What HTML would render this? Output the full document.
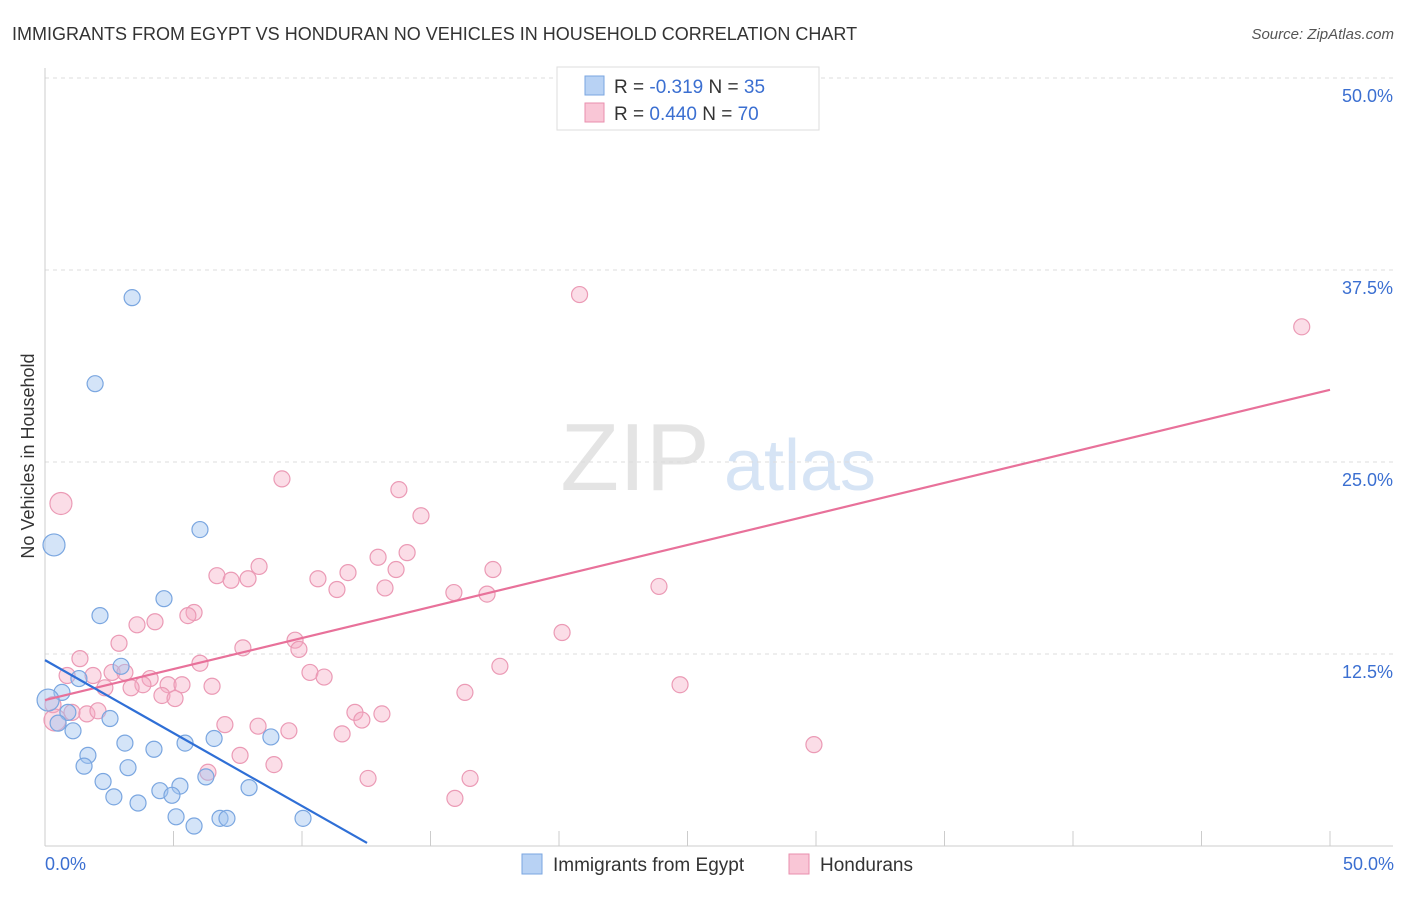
<!DOCTYPE html>
<html><head><meta charset="utf-8"><style>
body{margin:0;background:#fff;font-family:"Liberation Sans",sans-serif;}
svg text{font-family:"Liberation Sans",sans-serif;}
</style></head><body>
<svg id="c" width="1406" height="892" viewBox="0 0 1406 892">
<text x="12" y="40" font-size="18" fill="#333">IMMIGRANTS FROM EGYPT VS HONDURAN NO VEHICLES IN HOUSEHOLD CORRELATION CHART</text>
<text x="1394" y="39" font-size="15" fill="#555" text-anchor="end" font-style="italic">Source: ZipAtlas.com</text>
<g>
<text x="635" y="490" font-size="96" fill="#e4e4e4" font-family="Liberation Serif" text-anchor="middle">ZIP</text>
<text x="800" y="490" font-size="72" fill="#d6e4f5" text-anchor="middle">atlas</text>
</g>
<g id="grid"></g>
<g id="marks"></g>
<text transform="translate(34,456) rotate(-90)" font-size="18" fill="#333" text-anchor="middle">No Vehicles in Household</text>
<text x="45" y="870" font-size="18" fill="#3b6fd1">0.0%</text>
<text x="1394" y="870" font-size="18" fill="#3b6fd1" text-anchor="end">50.0%</text>
<g>
<rect x="557" y="67" width="262" height="63" fill="#fff" stroke="#ddd"/>
<rect x="585" y="76" width="19" height="19" fill="#b8d2f4" stroke="#7aa6e0"/>
<text x="614" y="93" font-size="19" fill="#333">R = <tspan fill="#3b6fd1">-0.319</tspan>   N = <tspan fill="#3b6fd1">35</tspan></text>
<rect x="585" y="103" width="19" height="19" fill="#f9c6d6" stroke="#e98fae"/>
<text x="614" y="120" font-size="19" fill="#333">R = <tspan fill="#3b6fd1"> 0.440</tspan>   N = <tspan fill="#3b6fd1">70</tspan></text>
</g>
<g>
<rect x="522" y="854" width="20" height="20" fill="#b8d2f4" stroke="#7aa6e0"/>
<text x="553" y="871" font-size="19" fill="#333">Immigrants from Egypt</text>
<rect x="789" y="854" width="20" height="20" fill="#f9c6d6" stroke="#e98fae"/>
<text x="820" y="871" font-size="19" fill="#333">Hondurans</text>
</g>
</svg>
<script>
const yTicks=[12.5,25,37.5,50];
const yTickLabels=["12.5%","25.0%","37.5%","50.0%"];
const xTicks=[0,5,10,15,20,25,30,35,40,45,50];
const egyptX=[3.39,1.95,0.35,6.03,4.63,2.14,2.96,1.32,0.66,0.12,0.89,2.53,0.51,1.09,3.11,4.24,5.45,6.58,8.79,1.67,1.52,3.23,2.26,5.25,6.26,7.94,4.47,2.68,4.94,3.62,5.1,6.81,7.08,5.8,10.04];
const egyptY=[35.7,30.1,19.6,20.6,16.1,15.0,11.7,10.9,10.0,9.5,8.7,8.3,8.0,7.5,6.7,6.3,6.7,7.0,7.1,5.9,5.2,5.1,4.2,3.9,4.5,3.8,3.6,3.2,3.3,2.8,1.9,1.8,1.8,1.3,1.8];
const hondX=[20.8,48.9,0.62,9.22,13.77,14.63,14.09,12.96,8.33,11.79,13.66,17.43,6.69,7.24,7.9,10.62,11.36,13.23,23.89,15.91,17.2,5.8,5.56,4.28,3.58,20.12,9.73,2.88,7.7,9.88,1.36,6.03,17.7,2.61,10.31,0.86,1.87,3.11,4.09,10.86,3.81,4.79,5.33,6.5,3.35,2.33,24.71,16.34,4.55,5.06,0.31,0.39,1.05,1.63,2.06,12.06,13.11,12.33,7.0,8.29,9.49,11.56,29.92,7.59,8.91,6.34,12.57,16.54,15.95];
const hondY=[35.9,33.8,22.3,23.9,23.2,21.5,19.1,18.8,18.2,17.8,18.0,18.0,17.6,17.3,17.4,17.4,16.7,16.8,16.9,16.5,16.4,15.2,15.0,14.6,14.4,13.9,13.4,13.2,12.9,12.8,12.2,11.9,11.7,11.3,11.3,11.1,11.1,11.3,10.9,11.0,10.5,10.5,10.5,10.4,10.3,10.3,10.5,10.0,9.8,9.6,9.2,8.2,8.7,8.6,8.8,8.7,8.6,8.2,7.9,7.8,7.5,7.3,6.6,5.9,5.3,4.8,4.4,4.4,3.1];
const egyptTrend=[[0,12.1],[12.53,0.2]];
const hondTrend=[[0,9.5],[50,29.7]];
const NS="http://www.w3.org/2000/svg";
const X=v=>45+v*25.7, Y=v=>846-v*15.36;
function mk(t,a,p){const e=document.createElementNS(NS,t);for(const k in a)e.setAttribute(k,a[k]);p.appendChild(e);return e;}
const g=document.getElementById('grid'), m=document.getElementById('marks');
yTicks.forEach((t,i)=>{
 const l=mk('line',{x1:45,x2:1393,y1:Y(t),y2:Y(t),stroke:'#ddd','stroke-dasharray':'4,4'},g);
 
 
 const tx=mk('text',{x:1393,y:Y(t)+24,'font-size':18,fill:'#3b6fd1','text-anchor':'end'},g);
 tx.textContent=yTickLabels[i];
 
 
});
const ax=mk('line',{x1:45,x2:45,y1:68,y2:846,stroke:'#ccc'},g);


const bx=mk('line',{x1:45,x2:1393,y1:846,y2:846,stroke:'#ccc'},g);


xTicks.forEach(t=>{const l=mk('line',{x1:X(t),x2:X(t),y1:831,y2:846,stroke:'#ccc'},g);
 
 });
hondX.forEach((v,i)=>{const big=(i==2||i==51);const c=mk('circle',{cx:X(v),cy:Y(hondY[i]),r:big?11:8,fill:'rgba(244,170,195,0.4)',stroke:'#eb9ab5','stroke-width':1.2},m);
 
 });
egyptX.forEach((v,i)=>{const big=(i==2||i==9);const c=mk('circle',{cx:X(v),cy:Y(egyptY[i]),r:big?11:8,fill:'rgba(160,195,240,0.45)',stroke:'#7aa6e0','stroke-width':1.2},m);
 
 });
const pl=mk('line',{x1:X(hondTrend[0][0]),y1:Y(hondTrend[0][1]),x2:X(hondTrend[1][0]),y2:Y(hondTrend[1][1]),stroke:'#e8719a','stroke-width':2.2},m);


const bl=mk('line',{x1:X(egyptTrend[0][0]),y1:Y(egyptTrend[0][1]),x2:X(egyptTrend[1][0]),y2:Y(egyptTrend[1][1]),stroke:'#2f6fd6','stroke-width':2.2},m);


</script>
</body></html>
